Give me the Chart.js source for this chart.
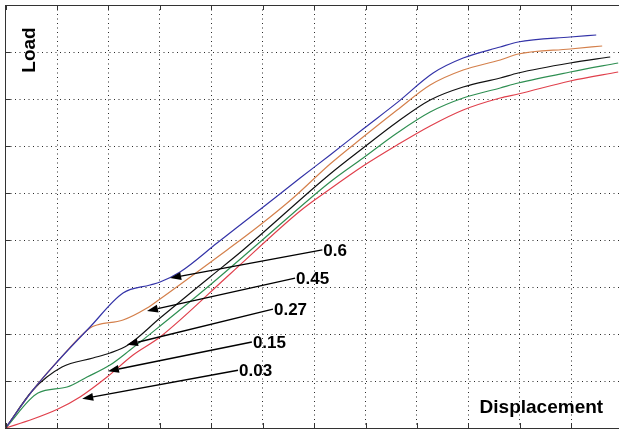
<!DOCTYPE html>
<html>
<head>
<meta charset="utf-8">
<script src="https://cdn.jsdelivr.net/npm/chart.js@4.4.1/dist/chart.umd.min.js"></script>
<style>
html,body{margin:0;padding:0;background:#fff;overflow:hidden;width:619px;height:430px;}
#wrap{position:absolute;left:0;top:0;width:631px;height:430px;}
</style>
</head>
<body>
<div id="wrap"><canvas id="c" width="631" height="430"></canvas></div>
<script>
// ---- data (axis units: one grid division = 1) ----
const seriesLabels = ['0.6', '0.45', '0.27', '0.15', '0.03'];
const seriesColors = ['#3434a8', '#d4804c', '#111111', '#2f8f52', '#e0404c'];

const x06 = [0, 0.533, 1.000, 1.642, 2.284, 2.809, 3.004, 3.393, 4.113, 4.949, 5.728, 6.311, 6.953, 7.615, 8.315, 8.899, 9.619, 9.969, 10.981, 11.487];
const y06 = [0, 0.809, 1.404, 2.149, 2.872, 3.043, 3.106, 3.319, 3.936, 4.649, 5.319, 5.809, 6.362, 6.923, 7.553, 7.872, 8.106, 8.213, 8.319, 8.362];

const x045 = [0, 0.533, 1.000, 1.642, 1.778, 2.284, 2.751, 3.004, 3.646, 4.307, 4.949, 5.591, 6.311, 6.953, 7.615, 8.257, 8.899, 9.619, 9.969, 10.981, 11.603];
const y045 = [0, 0.809, 1.404, 2.128, 2.191, 2.298, 2.553, 2.745, 3.255, 3.787, 4.319, 4.894, 5.617, 6.191, 6.766, 7.298, 7.617, 7.830, 7.957, 8.064, 8.128];

const x027 = [0, 0.533, 1.097, 1.700, 2.031, 2.381, 3.004, 3.977, 4.619, 6.311, 6.953, 7.615, 8.257, 8.899, 9.619, 9.969, 10.981, 11.759];
const y027 = [0, 0.809, 1.298, 1.489, 1.596, 1.766, 2.340, 3.213, 3.787, 5.404, 5.957, 6.511, 6.979, 7.255, 7.447, 7.553, 7.766, 7.894];

const x015 = [0, 0.630, 1.195, 1.584, 2.031, 2.420, 3.004, 3.977, 4.949, 6.311, 6.953, 7.615, 8.257, 8.899, 9.619, 9.969, 10.981, 11.914];
const y015 = [0, 0.745, 0.872, 1.085, 1.340, 1.660, 2.170, 3.043, 3.957, 5.234, 5.745, 6.277, 6.723, 7.021, 7.234, 7.340, 7.574, 7.766];

const x003 = [0, 0.533, 1.019, 1.447, 1.973, 2.479, 3.004, 4.366, 5.728, 6.311, 6.953, 7.615, 8.257, 8.899, 9.619, 9.969, 10.981, 11.914];
const y003 = [0, 0.191, 0.404, 0.660, 1.085, 1.553, 1.936, 3.277, 4.617, 5.085, 5.574, 6.021, 6.426, 6.766, 7.021, 7.106, 7.383, 7.574];

// annotation arrows: from label (x,y) to arrow tip on curve
const annotLabels = ['0.6', '0.45', '0.27', '0.15', '0.03'];
const annotFromX = [6.16, 5.63, 5.20, 4.79, 4.52];
const annotFromY = [3.79, 3.19, 2.53, 1.83, 1.23];
const annotToX   = [3.20, 2.75, 2.36, 1.99, 1.49];
const annotToY   = [3.19, 2.49, 1.77, 1.21, 0.62];

const xTitle = 'Displacement';
const yTitle = 'Load';

const xs = [x06, x045, x027, x015, x003];
const ys = [y06, y045, y027, y015, y003];

const datasets = seriesLabels.map((lab, i) => ({
  label: lab,
  data: xs[i].map((x, j) => ({x: x, y: ys[i][j]})),
  borderColor: seriesColors[i],
  backgroundColor: seriesColors[i],
  borderWidth: 1.2,
  pointRadius: 0,
  cubicInterpolationMode: 'monotone',
  fill: false
}));

const FONT = '"Liberation Sans", Arial, Helvetica, sans-serif';

const decoPlugin = {
  id: 'deco',
  afterDatasetsDraw(chart) {
    const {ctx, chartArea: ca, scales} = chart;
    const xs_ = scales.x, ys_ = scales.y;
    ctx.save();
    // inward tick marks
    ctx.strokeStyle = '#333';
    ctx.lineWidth = 1;
    ctx.setLineDash([]);
    xs_.ticks.forEach(t => {
      const px = Math.round(xs_.getPixelForValue(t.value)) + 0.5;
      ctx.beginPath();
      ctx.moveTo(px, ca.bottom); ctx.lineTo(px, ca.bottom - 5);
      ctx.moveTo(px, ca.top); ctx.lineTo(px, ca.top + 5);
      ctx.stroke();
    });
    ys_.ticks.forEach(t => {
      const py = Math.round(ys_.getPixelForValue(t.value)) + 0.5;
      ctx.beginPath();
      ctx.moveTo(ca.left, py); ctx.lineTo(ca.left + 5, py);
      ctx.stroke();
    });
    // arrows
    ctx.strokeStyle = '#000';
    ctx.fillStyle = '#000';
    ctx.lineWidth = 1.4;
    ctx.font = 'bold 17px ' + FONT;
    ctx.textAlign = 'left';
    ctx.textBaseline = 'middle';
    annotLabels.forEach((lab, i) => {
      const x0 = xs_.getPixelForValue(annotFromX[i]);
      const y0 = ys_.getPixelForValue(annotFromY[i]);
      const x1 = xs_.getPixelForValue(annotToX[i]);
      const y1 = ys_.getPixelForValue(annotToY[i]);
      const ang = Math.atan2(y1 - y0, x1 - x0);
      const hl = 11, hw = 4;
      const bx = x1 - hl * Math.cos(ang), by = y1 - hl * Math.sin(ang);
      ctx.beginPath();
      ctx.moveTo(x0, y0); ctx.lineTo(bx, by);
      ctx.stroke();
      ctx.beginPath();
      ctx.moveTo(x1, y1);
      ctx.lineTo(bx + hw * Math.sin(ang), by - hw * Math.cos(ang));
      ctx.lineTo(bx - hw * Math.sin(ang), by + hw * Math.cos(ang));
      ctx.closePath();
      ctx.fill();
      ctx.fillText(lab, x0 + 1, y0 + 1);
    });
    // axis titles inside plot
    ctx.font = 'bold 19px ' + FONT;
    ctx.textAlign = 'left';
    ctx.textBaseline = 'middle';
    ctx.fillText(xTitle, ca.left + 474, ca.bottom - 20);
    ctx.save();
    ctx.translate(ca.left + 24, ca.top + 45);
    ctx.rotate(-Math.PI / 2);
    ctx.textAlign = 'center';
    ctx.fillText(yTitle, 0, 0);
    ctx.restore();
    ctx.restore();
  }
};

new Chart(document.getElementById('c'), {
  type: 'line',
  data: {datasets},
  options: {
    responsive: false,
    animation: false,
    events: [],
    layout: {padding: {left: 5.6, top: 5, right: 8.4, bottom: 2}},
    plugins: {legend: {display: false}, tooltip: {enabled: false}, title: {display: false}},
    scales: {
      x: {
        type: 'linear', min: 0, max: 12, position: 'bottom',
        ticks: {display: false, stepSize: 1},
        grid: {color: '#2a2a2a', lineWidth: 1, drawTicks: false},
        border: {display: true, color: '#333', width: 1, dash: [1, 3.5]}
      },
      x2: {
        type: 'linear', min: 0, max: 12, position: 'top',
        ticks: {display: false},
        grid: {display: false, drawTicks: false},
        border: {display: true, color: '#333', width: 1}
      },
      y: {
        type: 'linear', min: 0, max: 9, position: 'left',
        ticks: {display: false, stepSize: 1},
        grid: {color: '#2a2a2a', lineWidth: 1, drawTicks: false},
        border: {display: true, color: '#333', width: 1, dash: [1, 3.5]}
      }
    }
  },
  plugins: [decoPlugin]
});
</script>
</body>
</html>
